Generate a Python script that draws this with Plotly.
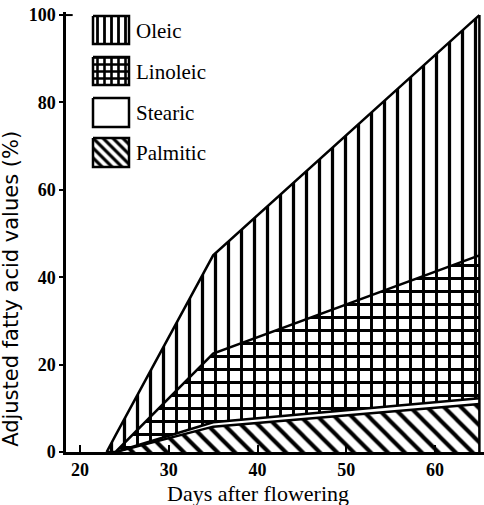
import numpy as np
import plotly.graph_objects as go

# ---- data ----
days = [23, 24, 35, 65]
palmitic = [0.0, 0.0, 5.8, 11.0]
stearic = [0.0, 0.0, 1.0, 1.3]
linoleic = [0.0, 0.0, 15.7, 32.7]
oleic = [0.0, 3.8, 22.5, 55.0]

series_names = ["Palmitic", "Stearic", "Linoleic", "Oleic"]
x_ticks = [20, 30, 40, 50, 60]
y_ticks = [0, 20, 40, 60, 80, 100]

cum_p = np.array(palmitic)
cum_s = cum_p + np.array(stearic)
cum_l = cum_s + np.array(linoleic)
cum_o = cum_l + np.array(oleic)

LW = 2.5
SERIF = "Liberation Serif"
SANS = "DejaVu Sans"

fig = go.Figure()

fig.add_trace(go.Scatter(
    x=days, y=cum_p, mode="lines", fill="tozeroy",
    line=dict(color="black", width=LW), fillcolor="white",
    fillpattern=dict(shape="\\", size=12, solidity=0.34, fgcolor="black", bgcolor="white", fgopacity=1),
    showlegend=False, hoverinfo="skip"))
fig.add_trace(go.Scatter(
    x=days, y=cum_s, mode="lines", fill="tonexty",
    line=dict(color="black", width=LW), fillcolor="white",
    showlegend=False, hoverinfo="skip"))
fig.add_trace(go.Scatter(
    x=days, y=cum_l, mode="lines", fill="tonexty",
    line=dict(color="black", width=LW), fillcolor="white",
    fillpattern=dict(shape="+", size=13, solidity=0.4, fgcolor="black", bgcolor="white", fgopacity=1),
    showlegend=False, hoverinfo="skip"))
fig.add_trace(go.Scatter(
    x=days, y=cum_o, mode="lines", fill="tonexty",
    line=dict(color="black", width=LW), fillcolor="white",
    fillpattern=dict(shape="|", size=13, solidity=0.25, fgcolor="black", bgcolor="white", fgopacity=1),
    showlegend=False, hoverinfo="skip"))
fig.add_trace(go.Scatter(
    x=[days[-1], days[-1]], y=[0, cum_o[-1]], mode="lines",
    line=dict(color="black", width=LW), showlegend=False, hoverinfo="skip"))

# ---- legend drawn on an overlay axis (pixel-like coordinates) ----
leg_x0, leg_x1 = 93, 129
leg_rows = [
    ("Oleic", 16, 44, "|"),
    ("Linoleic", 57, 85, "+"),
    ("Stearic", 98, 127, ""),
    ("Palmitic", 138, 167, "\\"),
]
sol = {"|": 0.4, "+": 0.6, "\\": 0.45, "": 0}
for name, y0, y1, shp in leg_rows:
    kw = {}
    if shp:
        kw["fillpattern"] = dict(shape=shp, size=7, solidity=sol[shp], fgcolor="black",
                                 bgcolor="white", fgopacity=1)
    fig.add_trace(go.Scatter(
        x=[leg_x0, leg_x1, leg_x1, leg_x0, leg_x0], y=[y0, y0, y1, y1, y0],
        mode="lines", fill="toself", fillcolor="white",
        line=dict(color="black", width=LW),
        xaxis="x2", yaxis="y2", showlegend=False, hoverinfo="skip", **kw))
    fig.add_annotation(x=134, y=(y0 + y1) / 2 + 0.5, xref="x2", yref="y2",
                       text=name, showarrow=False, xanchor="left", yanchor="middle",
                       font=dict(family=SERIF, size=21, color="black"))

fig.update_layout(
    width=484, height=505,
    margin=dict(l=66, r=0, t=12, b=53),
    plot_bgcolor="white", paper_bgcolor="white",
    xaxis=dict(range=[18.42, 65.52], tickvals=x_ticks,
               ticktext=["<b>%d</b>" % v for v in x_ticks],
               ticks="inside", ticklen=7,
               tickwidth=2, tickcolor="black", showline=True, linewidth=LW, linecolor="black",
               showgrid=False, zeroline=False,
               tickfont=dict(family=SERIF, size=18, color="black")),
    yaxis=dict(range=[0, 100.7], tickvals=y_ticks,
               ticktext=["<b>%d</b>" % v for v in y_ticks],
               ticks="outside", ticklen=4,
               tickwidth=2, tickcolor="black", showline=True, linewidth=LW, linecolor="black",
               showgrid=False, zeroline=False,
               tickfont=dict(family=SERIF, size=18, color="black")),
    xaxis2=dict(range=[66, 484], overlaying="x", anchor="y2", visible=False),
    yaxis2=dict(range=[452, 12], overlaying="y", anchor="x2", visible=False),
)

fig.add_shape(type="line", xref="paper", yref="y", x0=0, x1=0.016, y0=100, y1=100,
              line=dict(color="black", width=2))

fig.add_annotation(x=0.459, y=-0.094, xref="paper", yref="paper",
                   text="Days after flowering", showarrow=False,
                   font=dict(family=SERIF, size=22, color="black"),
                   xanchor="center", yanchor="middle")
fig.add_annotation(x=-0.13, y=0.37, xref="paper", yref="paper",
                   text="Adjusted fatty acid values (%)", showarrow=False, textangle=-90,
                   font=dict(family=SANS, size=21, color="black"),
                   xanchor="center", yanchor="middle")

fig.write_html("out.html", config={"displayModeBar": False},
               post_script="document.body.style.margin='0';document.body.style.overflow='hidden';")
